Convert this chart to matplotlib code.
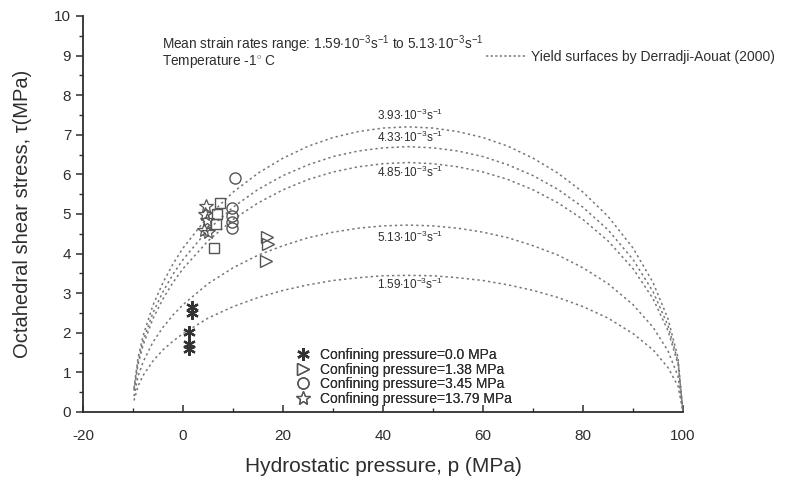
import matplotlib
matplotlib.use('Agg')
import matplotlib.pyplot as plt
from matplotlib.lines import Line2D
from matplotlib.ticker import MultipleLocator

plt.rcParams['font.family'] = ['Liberation Sans', 'DejaVu Sans']
plt.rcParams['mathtext.fontset'] = 'custom'
plt.rcParams['mathtext.rm'] = 'Liberation Sans'
plt.rcParams['mathtext.it'] = 'Liberation Sans:italic'
plt.rcParams['axes.unicode_minus'] = False

# yield surfaces
p_curve = [-9.8, -9, -8, -6, -4, -2, 0, 5, 10, 15, 20, 25, 30, 35, 40, 45,
           50, 55, 60, 65, 70, 75, 80, 85, 90, 94, 97, 99, 100]
tau_393 = [0.61, 1.37, 1.92, 2.70, 3.27, 3.74, 4.14, 4.94, 5.55, 6.03, 6.41, 6.71, 6.93, 7.08, 7.17, 7.20,
           7.17, 7.08, 6.93, 6.71, 6.41, 6.03, 5.55, 4.94, 4.14, 3.27, 2.35, 1.37, 0.0]
tau_433 = [0.57, 1.27, 1.79, 2.51, 3.04, 3.48, 3.85, 4.60, 5.17, 5.62, 5.97, 6.24, 6.45, 6.59, 6.67, 6.70,
           6.67, 6.59, 6.45, 6.24, 5.97, 5.62, 5.17, 4.60, 3.85, 3.04, 2.18, 1.27, 0.0]
tau_485 = [0.54, 1.20, 1.68, 2.36, 2.86, 3.27, 3.62, 4.32, 4.86, 5.28, 5.61, 5.87, 6.06, 6.19, 6.27, 6.30,
           6.27, 6.19, 6.06, 5.87, 5.61, 5.28, 4.86, 4.32, 3.62, 2.86, 2.05, 1.20, 0.0]
tau_513 = [0.40, 0.90, 1.26, 1.77, 2.14, 2.45, 2.71, 3.24, 3.64, 3.96, 4.20, 4.40, 4.54, 4.64, 4.70, 4.72,
           4.70, 4.64, 4.54, 4.40, 4.20, 3.96, 3.64, 3.24, 2.71, 2.14, 1.54, 0.90, 0.0]
tau_159 = [0.29, 0.65, 0.92, 1.29, 1.57, 1.79, 1.98, 2.37, 2.66, 2.89, 3.07, 3.21, 3.32, 3.39, 3.44, 3.45,
           3.44, 3.39, 3.32, 3.21, 3.07, 2.89, 2.66, 2.37, 1.98, 1.57, 1.12, 0.65, 0.0]
curves = [tau_393, tau_433, tau_485, tau_513, tau_159]

curve_labels = ['3.93', '4.33', '4.85', '5.13', '1.59']
label_p = [45.4, 45.4, 45.4, 45.4, 45.4]
label_tau = [7.5, 6.94, 6.04, 4.42, 3.21]

# test points
p_0 = [1.7, 1.7, 1.1, 1.1, 1.1]
t_0 = [2.66, 2.5, 2.03, 1.72, 1.6]
p_138 = [16.8, 16.9, 16.6]
t_138 = [4.42, 4.25, 3.82]
p_345 = [10.4, 9.8, 9.8, 9.8, 9.8]
t_345 = [5.9, 5.15, 4.95, 4.8, 4.65]
p_1379 = [4.6, 4.4, 4.8, 4.2, 5.0]
t_1379 = [5.2, 5.0, 4.85, 4.6, 4.55]
p_sq = [7.4, 6.8, 6.6, 6.1]
t_sq = [5.27, 5.0, 4.75, 4.13]

ink = '#2e2e2e'
fig = plt.figure(figsize=(7.87, 4.8), dpi=100)
ax = fig.add_axes([0.1055, 0.1417, 0.7624, 0.825])

for tau in curves:
    ax.plot(p_curve, tau, color='#777777', lw=1.1, ls=(0, (1.5, 2.0)))

for lab, x, y in zip(curve_labels, label_p, label_tau):
    ax.text(x, y, lab + r'$\cdot$10$^{-3}$s$^{-1}$', ha='center', va='center',
            fontsize=8.5, color=ink)

h0, = ax.plot(p_0, t_0, ls='none', marker=(6, 2, 0), ms=9, mew=1.6, color='#333333',
              label='Confining pressure=0.0 MPa')
h1, = ax.plot(p_138, t_138, ls='none', marker='>', ms=9, mfc='none', mew=1.0, color='#555555',
              label='Confining pressure=1.38 MPa')
h2, = ax.plot(p_345, t_345, ls='none', marker='o', ms=8, mfc='none', mew=1.0, color='#555555',
              label='Confining pressure=3.45 MPa')
h3, = ax.plot(p_1379, t_1379, ls='none', marker='*', ms=10, mfc='none', mew=0.9, color='#555555',
              label='Confining pressure=13.79 MPa')
ax.plot(p_sq, t_sq, ls='none', marker='s', ms=7, mfc='none', mew=1.0, color='#555555')

leg = ax.legend(handles=[h0, h1, h2, h3], loc='upper left', bbox_to_anchor=(0.355, 0.162),
                frameon=False, fontsize=10, handlelength=1.0, handletextpad=0.7,
                labelspacing=0.05, borderpad=0, borderaxespad=0)
for t in leg.get_texts():
    t.set_color(ink)
ax.add_artist(leg)

yh = Line2D([], [], color='#777777', lw=1.1, ls=(0, (1.5, 1.5)))
leg2 = fig.legend(handles=[yh], labels=['Yield surfaces by Derradji-Aouat (2000)'],
                  loc='center left', bbox_to_anchor=(0.617, 0.881), frameon=False,
                  fontsize=10, handlelength=3.0, handletextpad=0.3, borderpad=0, borderaxespad=0)
for t in leg2.get_texts():
    t.set_color(ink)

fig.text(0.206, 0.908, r'Mean strain rates range: 1.59$\cdot$10$^{-3}$s$^{-1}$ to 5.13$\cdot$10$^{-3}$s$^{-1}$',
         fontsize=9.8, color=ink, va='center')
fig.text(0.206, 0.870, r'Temperature -1$^{\circ}$ C', fontsize=9.8, color=ink, va='center')

ax.set_xlim(-20, 100)
ax.set_ylim(0, 10)
ax.xaxis.set_major_locator(MultipleLocator(20))
ax.xaxis.set_minor_locator(MultipleLocator(10))
ax.yaxis.set_major_locator(MultipleLocator(1))
ax.yaxis.set_minor_locator(MultipleLocator(0.5))
ax.tick_params(axis='x', which='major', direction='in', length=5, width=1.1, colors=ink, labelsize=11, pad=12)
ax.tick_params(axis='x', which='minor', direction='in', length=3, width=1.0, colors=ink)
ax.tick_params(axis='y', which='major', direction='out', length=5, width=1.1, colors=ink, labelsize=11)
ax.tick_params(axis='y', which='minor', direction='out', length=3, width=1.0, colors=ink)
for s in ['top', 'right']:
    ax.spines[s].set_visible(False)
for s in ['left', 'bottom']:
    ax.spines[s].set_color(ink)
    ax.spines[s].set_linewidth(1.3)

ax.set_xlabel('Hydrostatic pressure, p (MPa)', fontsize=15, color=ink, labelpad=10)
ax.set_ylabel('Octahedral shear stress, τ(MPa)', fontsize=14.5, color=ink, labelpad=16)

fig.savefig('out.png', dpi=100)
